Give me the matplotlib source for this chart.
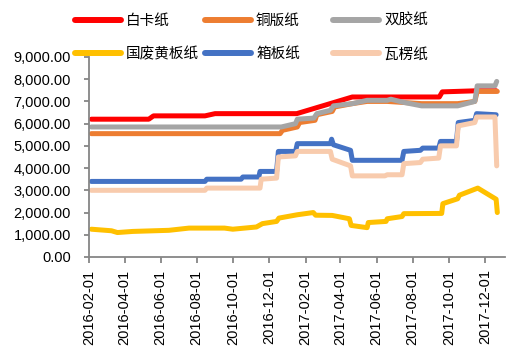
import matplotlib
matplotlib.use("Agg")
import matplotlib.pyplot as plt
import matplotlib.dates as mdates
from matplotlib.lines import Line2D
from matplotlib.ticker import FuncFormatter
import pandas as pd

plt.rcParams["font.family"] = ["Liberation Sans", "Noto Sans CJK SC"]

# 白卡纸
baika_dates = ["2016-02-05", "2016-05-12", "2016-05-20", "2016-08-15", "2016-09-01",
               "2017-01-17", "2017-04-21", "2017-09-15", "2017-09-20", "2017-11-18",
               "2017-12-20"]
baika_vals = [6200, 6200, 6350, 6350, 6450, 6450, 7200, 7200, 7430, 7480, 7480]

# 铜版纸
tongban_dates = ["2016-02-05", "2016-12-20", "2016-12-24", "2017-01-18", "2017-01-22",
                 "2017-02-17", "2017-02-20", "2017-03-18", "2017-03-22", "2017-04-21",
                 "2017-05-16", "2017-06-19", "2017-07-18", "2017-08-16", "2017-10-16",
                 "2017-11-14", "2017-11-18", "2017-12-22"]
tongban_vals = [5550, 5550, 5700, 5850, 6050, 6150, 6400, 6550, 6750, 6900,
                7000, 7000, 6950, 6900, 6900, 7000, 7450, 7450]

# 双胶纸
shuangjiao_dates = ["2016-02-05", "2016-12-22", "2017-01-15", "2017-01-18", "2017-02-15",
                    "2017-02-20", "2017-03-15", "2017-03-20", "2017-04-21", "2017-05-16",
                    "2017-06-19", "2017-06-25", "2017-07-18", "2017-08-16", "2017-10-16",
                    "2017-11-14", "2017-11-18", "2017-12-18", "2017-12-21"]
shuangjiao_vals = [5850, 5850, 6000, 6200, 6250, 6450, 6600, 6800, 6900, 7050,
                   7050, 7100, 6950, 6800, 6800, 7000, 7700, 7700, 7900]

# 国废黄板纸
guofei_dates = ["2016-02-05", "2016-03-10", "2016-03-20", "2016-04-15", "2016-06-15",
                "2016-07-19", "2016-09-17", "2016-10-01", "2016-11-10", "2016-11-20",
                "2016-12-14", "2016-12-18", "2017-01-18", "2017-02-14", "2017-02-18",
                "2017-03-18", "2017-04-16", "2017-04-19", "2017-05-16", "2017-05-18",
                "2017-06-17", "2017-06-19", "2017-07-14", "2017-07-17", "2017-09-19",
                "2017-09-21", "2017-10-16", "2017-10-19", "2017-11-19", "2017-12-20",
                "2017-12-22"]
guofei_vals = [1250, 1180, 1100, 1150, 1200, 1300, 1300, 1250, 1350, 1500,
               1600, 1750, 1900, 2000, 1880, 1870, 1720, 1420, 1320, 1550,
               1600, 1720, 1820, 1950, 1960, 2400, 2620, 2780, 3100, 2600,
               2000]

# 箱板纸
xiangban_dates = ["2016-02-05", "2016-08-15", "2016-08-18", "2016-10-15", "2016-10-18",
                  "2016-11-14", "2016-11-16", "2016-12-14", "2016-12-17", "2017-01-15",
                  "2017-01-18", "2017-03-15", "2017-03-17", "2017-03-20", "2017-04-18",
                  "2017-04-21", "2017-07-14", "2017-07-17", "2017-08-14", "2017-08-18",
                  "2017-09-14", "2017-09-17", "2017-10-14", "2017-10-17", "2017-11-14",
                  "2017-11-17", "2017-12-20"]
xiangban_vals = [3400, 3400, 3500, 3500, 3600, 3600, 3850, 3850, 4750, 4750,
                 5100, 5100, 5300, 5050, 4800, 4350, 4350, 4750, 4800, 4900,
                 4900, 5200, 5200, 6050, 6150, 6450, 6400]

# 瓦楞纸
waleng_dates = ["2016-02-05", "2016-08-15", "2016-08-18", "2016-11-16", "2016-11-18",
                "2016-12-14", "2016-12-17", "2017-01-15", "2017-01-18", "2017-03-15",
                "2017-03-18", "2017-04-18", "2017-04-21", "2017-06-15", "2017-06-19",
                "2017-07-14", "2017-07-17", "2017-08-14", "2017-08-18", "2017-09-14",
                "2017-09-17", "2017-10-14", "2017-10-17", "2017-11-14", "2017-11-17",
                "2017-12-18", "2017-12-21"]
waleng_vals = [3000, 3000, 3100, 3100, 3500, 3550, 4500, 4550, 4750, 4750,
               4400, 4100, 3650, 3650, 3700, 3700, 4200, 4250, 4400, 4450,
               5000, 5000, 5900, 6050, 6300, 6300, 4100]

names = ["白卡纸", "铜版纸", "双胶纸", "国废黄板纸", "箱板纸", "瓦楞纸"]
colors = ["#FF0000", "#ED7D31", "#A5A5A5", "#FFC000", "#4472C4", "#F8CBAD"]

series = [
    (baika_dates, baika_vals),
    (tongban_dates, tongban_vals),
    (shuangjiao_dates, shuangjiao_vals),
    (guofei_dates, guofei_vals),
    (xiangban_dates, xiangban_vals),
    (waleng_dates, waleng_vals),
]

fig = plt.figure(figsize=(5.1, 3.53), dpi=100)
ax = fig.add_axes([0.1745, 0.272, 0.8157, 0.5666])

for (dates, vals), name, color in zip(series, names, colors):
    ax.plot(pd.to_datetime(dates), vals, color=color, linewidth=3.6,
            solid_capstyle="round", solid_joinstyle="round", label=name)

ax.set_ylim(0, 9000)
ax.set_yticks(range(0, 9001, 1000))
ax.yaxis.set_major_formatter(FuncFormatter(lambda v, p: f"{v:,.2f}"))

ax.set_xlim(pd.Timestamp("2016-02-01"), pd.Timestamp("2018-01-04"))
ax.xaxis.set_major_locator(mdates.MonthLocator(bymonth=[2, 4, 6, 8, 10, 12]))
ax.xaxis.set_major_formatter(mdates.DateFormatter("%Y-%m-%d"))

for side in ["top", "right"]:
    ax.spines[side].set_visible(False)
for side in ["left", "bottom"]:
    ax.spines[side].set_color("#868686")
    ax.spines[side].set_linewidth(1.3)

ax.tick_params(axis="y", direction="out", length=3.5, width=1.3, color="#868686",
               pad=9.5, labelsize=10.5)
ax.tick_params(axis="x", direction="out", length=4, width=1.3, color="#868686",
               pad=5, labelsize=10.5, labelrotation=90)

# legend in three columns, placed one by one
col_x = [75, 205, 333]
for i, x in enumerate(col_x):
    idx = [i, i + 3]
    handles = [Line2D([], [], color=colors[j], linewidth=4.3, solid_capstyle="round")
               for j in idx]
    fig.legend(handles, [names[j] for j in idx], loc="upper left",
               bbox_to_anchor=(x / 510, 1 - 14 / 353), frameon=False,
               borderpad=0, borderaxespad=0, handlelength=3.15,
               handletextpad=0.35, labelspacing=1.32,
               prop={"family": "Noto Sans CJK SC", "size": 10.5})

fig.savefig("out.png", dpi=100)
